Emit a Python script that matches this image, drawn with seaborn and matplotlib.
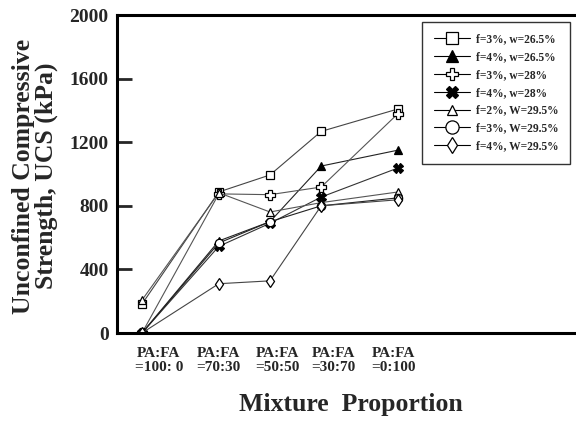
import pandas as pd
import matplotlib
matplotlib.use("Agg")
import matplotlib.pyplot as plt
import seaborn as sns

# FA content (%) for each mixture PA:FA
fa_content = [0, 30, 50, 70, 100]
tick_labels = ["PA:FA\n=100: 0", "PA:FA\n=70:30", "PA:FA\n=50:50", "PA:FA\n=30:70", "PA:FA\n=0:100"]

# UCS (kPa)
ucs_f3_w265 = [182, 887, 994, 1268, 1409]
ucs_f4_w265 = [0, 579, 700, 1050, 1150]
ucs_f3_w28 = [0, 875, 870, 918, 1380]
ucs_f4_w28 = [0, 545, 690, 855, 1038]
ucs_f2_w295 = [207, 882, 761, 820, 887]
ucs_f3_w295 = [0, 566, 700, 800, 850]
ucs_f4_w295 = [0, 310, 328, 800, 838]

# name, values, marker, face, plot size, legend size, line colour
series = [
    ("f=3%, w=26.5%", ucs_f3_w265, "s", "white", 5.5, 8.5, "#444444"),
    ("f=4%, w=26.5%", ucs_f4_w265, "^", "black", 5.5, 8.5, "#222222"),
    ("f=3%, w=28%", ucs_f3_w28, "P", "white", 6.5, 9, "#555555"),
    ("f=4%, w=28%", ucs_f4_w28, "X", "black", 6.5, 8.5, "#333333"),
    ("f=2%, W=29.5%", ucs_f2_w295, "^", "white", 5.5, 7, "#555555"),
    ("f=3%, W=29.5%", ucs_f3_w295, "o", "white", 6, 9.5, "#222222"),
    ("f=4%, W=29.5%", ucs_f4_w295, "d", "white", 6, 8.5, "#444444"),
]

sns.set_style("ticks")
plt.rcParams["font.family"] = ["Liberation Serif", "DejaVu Serif"]
plt.rcParams["font.weight"] = "bold"

fig = plt.figure(figsize=(5.76, 4.21), dpi=100)
ax = fig.add_axes([117 / 576, 88 / 421, (620 - 117) / 576, 318 / 421])

for name, vals, mk, fc, ms, lms, lc in series:
    df = pd.DataFrame({"FA": fa_content, "UCS": vals})
    sns.lineplot(data=df, x="FA", y="UCS", ax=ax, color=lc, linewidth=0.8,
                 marker=mk, markersize=ms, markerfacecolor=fc,
                 markeredgecolor="black", markeredgewidth=0.9, label=name)

px_per = 2.56
ax.set_xlim(-(142 - 117) / px_per, (620 - 142) / px_per)
ax.set_ylim(0, 2000)
ax.set_yticks([0, 400, 800, 1200, 1600, 2000])
ax.tick_params(axis="y", direction="in", length=11, width=2, labelsize=14, pad=6)
for t in ax.get_yticklabels():
    t.set_fontweight("bold")

# tick labels sit a little off the data columns in the original
label_pos = [6.6, 29.7, 53, 74.6, 98.4]
ax.set_xticks(label_pos)
ax.set_xticklabels(tick_labels, fontsize=11, fontweight="bold", linespacing=1.15)
ax.tick_params(axis="x", length=0, pad=10)
ax.set_xlabel("")
ax.set_ylabel("")
for s in ax.spines.values():
    s.set_linewidth(2.2)
    s.set_color("black")

fig.text(35 / 576, 1 - 176 / 421, "Unconfined Compressive\nStrength, UCS (kPa)",
         rotation=90, ha="center", va="center", multialignment="center",
         fontsize=18.5, fontweight="bold", linespacing=0.95)
fig.text(351 / 576, 1 - 404 / 421, "Mixture  Proportion", ha="center", va="center",
         fontsize=18.5, fontweight="bold")

leg = ax.legend(loc="upper left", bbox_to_anchor=(422 / 576, 1 - 22 / 421),
                bbox_transform=fig.transFigure, fontsize=8.3, handlelength=3.2,
                frameon=True, fancybox=False, edgecolor="black", borderpad=1.0,
                labelspacing=0.5, handletextpad=0.5, borderaxespad=0)
leg.get_frame().set_linewidth(1.0)
for t in leg.get_texts():
    t.set_fontweight("bold")
for h, s in zip(leg.legend_handles, series):
    h.set_markersize(s[5])
    h.set_color("black")

fig.savefig("out.png", dpi=100)
